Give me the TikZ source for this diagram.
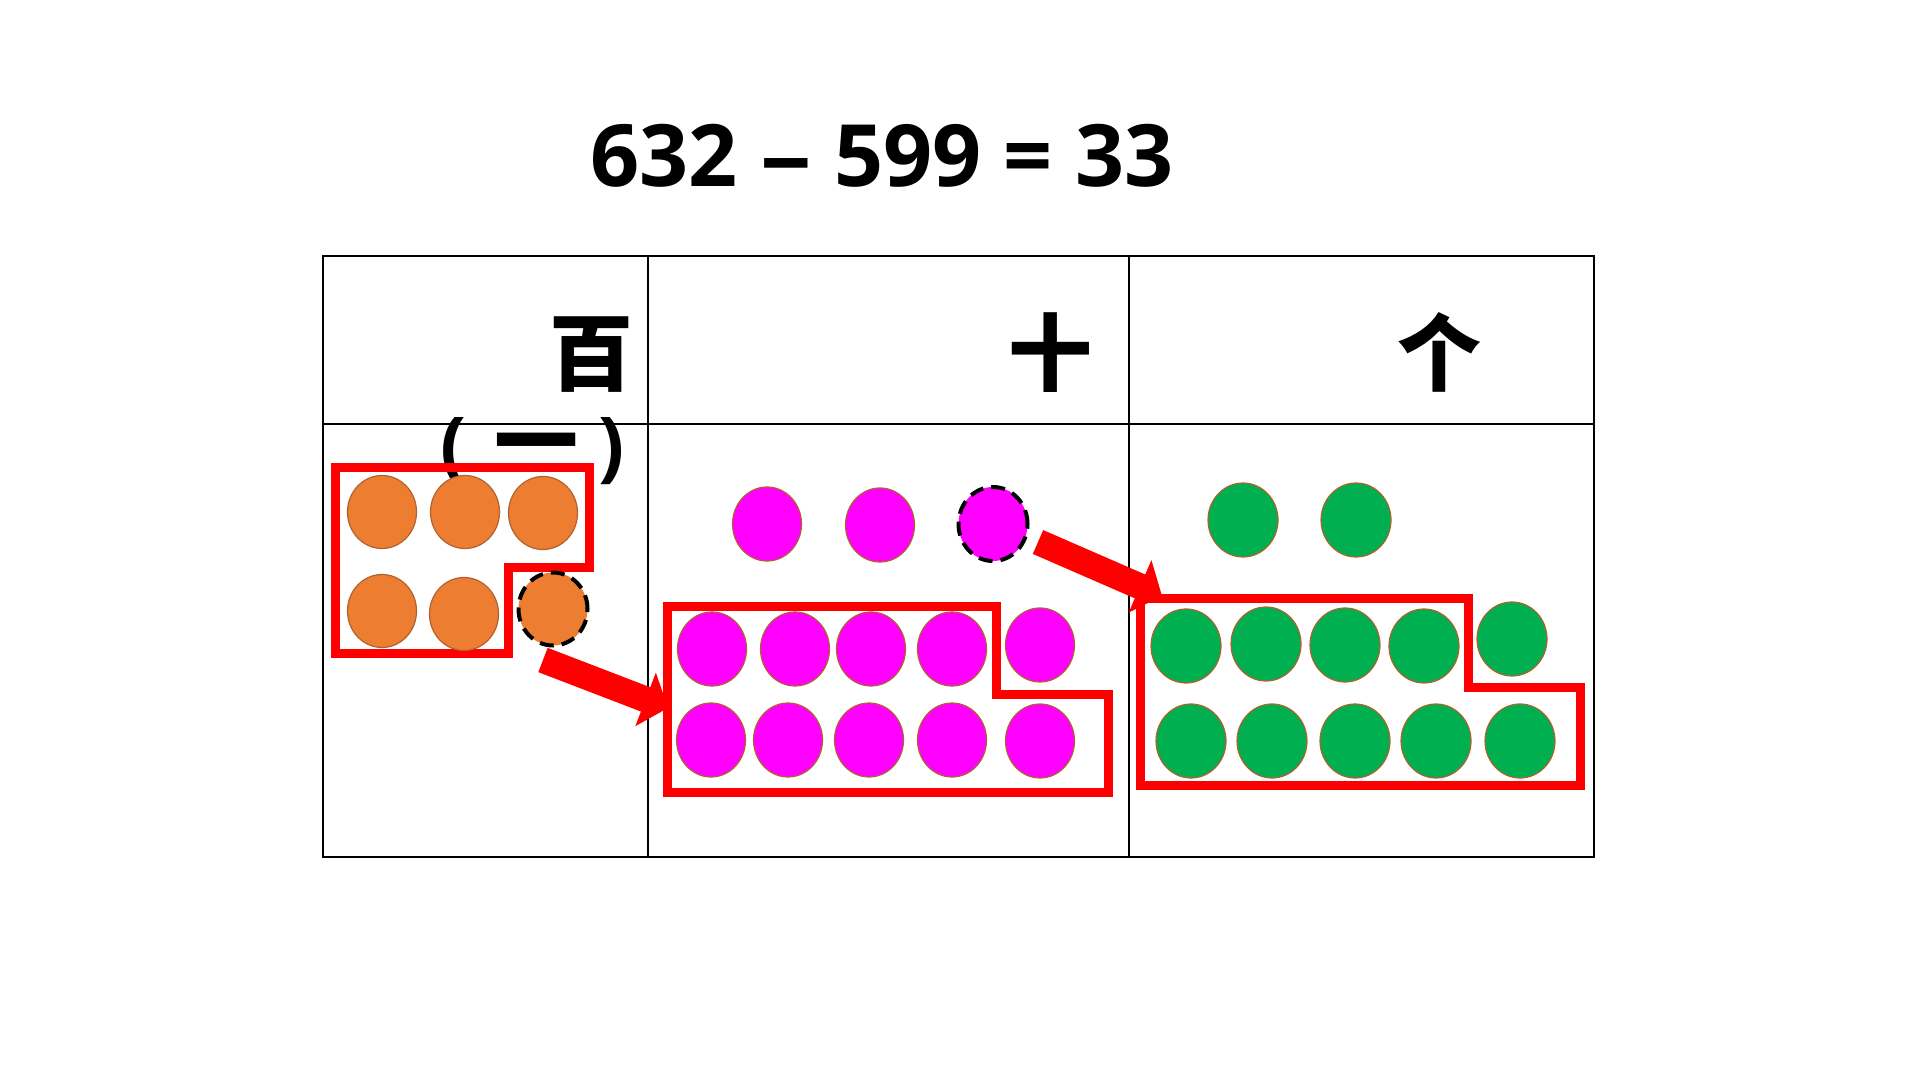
\documentclass[tikz,border=0pt]{standalone}
\usepackage{fontspec}
\setmainfont{Open Sans}
\newfontfamily\cjk{Noto Sans CJK SC}
\usetikzlibrary{shapes.geometric,arrows.meta}

\definecolor{dotorange}{HTML}{ED7D31}
\definecolor{dotpink}{HTML}{FF00FF}
\definecolor{dotgreen}{HTML}{00B050}
\definecolor{dotedge}{HTML}{B0622E}

\begin{document}
\begin{tikzpicture}[x=0.5pt,y=-0.5pt,
    head/.style={inner sep=0pt,font=\fontsize{42}{50}\selectfont\cjk\bfseries},
    dot/.style={ellipse,draw=dotedge,line width=0.6pt,inner sep=0pt},
    odot/.style={dot,fill=dotorange,minimum width=34.5pt,minimum height=36.5pt},
    pdot/.style={dot,fill=dotpink,minimum width=34.5pt,minimum height=37pt},
    gdot/.style={dot,fill=dotgreen,minimum width=35pt,minimum height=37pt},
    moved/.style={draw=black,line width=2pt,dash pattern=on 7pt off 4pt},
    group/.style={draw=red,line width=4.5pt},
    carry/.style={draw=red,line width=13pt,-{Triangle[length=12pt,width=28pt]}}]
    \useasboundingbox (0,0) rectangle (1920,1080);

    \node[anchor=base,inner sep=0pt,font=\fontsize{43}{52}\selectfont\bfseries] (t) at (882,187) {632 \scalebox{1.2}[1]{–} 599 = 33};

    % table
    \draw[line width=0.75pt] (323,256) rectangle (1594,857);
    \draw[line width=0.75pt] (323,424) -- (1594,424);
    \draw[line width=0.75pt] (648,256) -- (648,857);
    \draw[line width=0.75pt] (1129,256) -- (1129,857);

    \node[head,anchor=base] (h1) at (591,384) {百};
    \node[inner sep=0pt,anchor=base west,font=\fontsize{38.5}{46}\selectfont\bfseries] (h1b) at (440,472) {(\hspace{14pt}{\cjk\fontsize{42}{50}\selectfont 一}\hspace{10pt})};
    \node[head,anchor=base] (h2) at (1050,384) {十};
    \node[head,anchor=base] (h3) at (1439,384) {个};

    \draw[group] (335,467) -- (589,467) -- (589,567) -- (508,567) -- (508,653) -- (335,653) -- cycle;
    \draw[group] (667,606) -- (996,606) -- (996,694) -- (1108,694) -- (1108,792) -- (667,792) -- cycle;
    \draw[group] (1140,598) -- (1468,598) -- (1468,687) -- (1580,687) -- (1580,785) -- (1140,785) -- cycle;

    % hundreds
    \node[odot] (o1) at (382,512) {};
    \node[odot] (o2) at (465,512) {};
    \node[odot] (o3) at (543,513) {};
    \node[odot] (o4) at (382,611) {};
    \node[odot] (o5) at (464,614) {};
    \node[odot,moved] (o6) at (553,609) {};

    % tens
    \node[pdot] (p1) at (767,524) {};
    \node[pdot] (p2) at (880,525) {};
    \node[pdot,moved] (p3) at (993,524) {};
    \node[pdot] (p4) at (712,649) {};
    \node[pdot] (p5) at (795,649) {};
    \node[pdot] (p6) at (871,649) {};
    \node[pdot] (p7) at (952,649) {};
    \node[pdot] (p8) at (1040,645) {};
    \node[pdot] (p9) at (711,740) {};
    \node[pdot] (p10) at (788,740) {};
    \node[pdot] (p11) at (869,740) {};
    \node[pdot] (p12) at (952,740) {};
    \node[pdot] (p13) at (1040,741) {};

    % ones
    \node[gdot] (g1) at (1243,520) {};
    \node[gdot] (g2) at (1356,520) {};
    \node[gdot] (g3) at (1186,646) {};
    \node[gdot] (g4) at (1266,644) {};
    \node[gdot] (g5) at (1345,645) {};
    \node[gdot] (g6) at (1424,646) {};
    \node[gdot] (g7) at (1512,639) {};
    \node[gdot] (g8) at (1191,741) {};
    \node[gdot] (g9) at (1272,741) {};
    \node[gdot] (g10) at (1355,741) {};
    \node[gdot] (g11) at (1436,741) {};
    \node[gdot] (g12) at (1520,741) {};

    \coordinate (c1) at (543,660);
    \coordinate (c2) at (668,708);
    \coordinate (c3) at (1038,542);
    \coordinate (c4) at (1162,596);
    \draw[carry] (c1) -- (c2);
    \draw[carry] (c3) -- (c4);
\end{tikzpicture}
\end{document}
